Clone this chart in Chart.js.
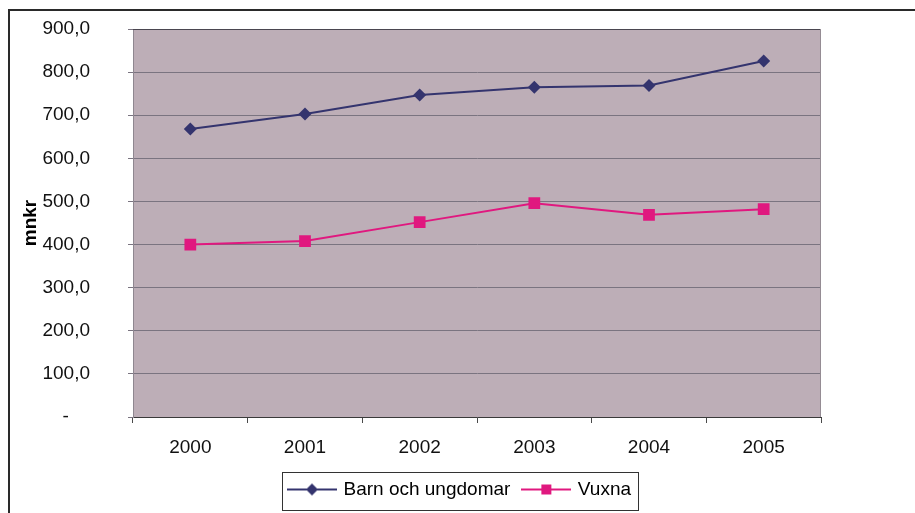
<!DOCTYPE html>
<html>
<head>
<meta charset="utf-8">
<script src="https://cdn.jsdelivr.net/npm/chart.js@4/dist/chart.umd.min.js"></script>
<style>
  html, body { margin: 0; padding: 0; background: #ffffff; }
  #wrap { width: 915px; height: 513px; position: relative; }
</style>
</head>
<body>
<div id="wrap"><canvas id="c" width="915" height="513"></canvas></div>
<script>
// ---- data ----
const categories = ['2000', '2001', '2002', '2003', '2004', '2005'];
const barnValues = [668, 703, 747, 765, 769, 826];
const vuxnaValues = [400, 408, 452, 496, 469, 482];
const seriesNames = ['Barn och ungdomar', 'Vuxna'];
const yTickValues = [0, 100, 200, 300, 400, 500, 600, 700, 800, 900];
const yTickLabels = ['-    ', '100,0', '200,0', '300,0', '400,0', '500,0', '600,0', '700,0', '800,0', '900,0'];
const yTitle = 'mnkr';

// ---- styles ----
const NAVY = '#34346e';
const MAGENTA = '#e0187f';
const PLOT_BG = '#bdaeb7';
const GRID = '#7a7480';
const FONT = "Arial, 'Liberation Sans', sans-serif";

function legendIcon(color, shape) {
  const cv = document.createElement('canvas');
  cv.width = 50; cv.height = 16;
  const g = cv.getContext('2d');
  g.strokeStyle = color; g.lineWidth = 2;
  g.beginPath(); g.moveTo(0, 8); g.lineTo(50, 8); g.stroke();
  g.fillStyle = color;
  g.beginPath();
  if (shape === 'diamond') {
    g.moveTo(25, 2); g.lineTo(31, 8); g.lineTo(25, 14); g.lineTo(19, 8); g.closePath();
  } else {
    g.rect(20, 3, 10, 10);
  }
  g.fill();
  return cv;
}
const icons = [legendIcon(NAVY, 'diamond'), legendIcon(MAGENTA, 'square')];

const decor = {
  id: 'decor',
  afterLayout(chart) {
    const lg = chart.legend;
    if (lg) { lg.left += 50; lg.right += 50; }
  },
  beforeDraw(chart) {
    const ctx = chart.ctx;
    const a = chart.chartArea;
    ctx.save();
    ctx.fillStyle = '#ffffff';
    ctx.fillRect(0, 0, chart.width, chart.height);
    // outer frame
    ctx.strokeStyle = '#2a2a2a';
    ctx.lineWidth = 2;
    ctx.beginPath();
    ctx.moveTo(9, chart.height);
    ctx.lineTo(9, 10);
    ctx.lineTo(chart.width, 10);
    ctx.stroke();
    // plot background
    ctx.fillStyle = PLOT_BG;
    ctx.fillRect(a.left, a.top, a.right - a.left, a.bottom - a.top);
    ctx.restore();
  },
  beforeDatasetsDraw(chart) {
    const ctx = chart.ctx;
    const a = chart.chartArea;
    ctx.save();
    ctx.lineWidth = 1;
    ctx.strokeStyle = '#4a4650';
    ctx.beginPath();
    ctx.moveTo(a.left, a.top + 0.5); ctx.lineTo(a.right, a.top + 0.5);
    ctx.stroke();
    ctx.strokeStyle = '#958c94';
    ctx.beginPath();
    ctx.moveTo(a.right - 0.5, a.top); ctx.lineTo(a.right - 0.5, a.bottom);
    ctx.stroke();
    ctx.restore();
  },
  afterDraw(chart) {
    const lg = chart.legend;
    if (!lg || !lg.legendHitBoxes || !lg.legendHitBoxes.length) return;
    const hb = lg.legendHitBoxes;
    let l = Infinity, r = -Infinity, t = Infinity, b = -Infinity;
    hb.forEach(h => {
      l = Math.min(l, h.left); r = Math.max(r, h.left + h.width);
      t = Math.min(t, h.top); b = Math.max(b, h.top + h.height);
    });
    const ctx = chart.ctx;
    ctx.save();
    ctx.strokeStyle = '#333333';
    ctx.lineWidth = 1;
    ctx.strokeRect(Math.round(l - 8) + 0.5, Math.round(t - 8) + 0.5, Math.round(r - l + 15), Math.round(b - t + 19));
    ctx.restore();
  }
};

new Chart(document.getElementById('c'), {
  type: 'line',
  data: {
    labels: categories,
    datasets: [
      {
        label: seriesNames[0],
        data: barnValues,
        borderColor: NAVY,
        backgroundColor: NAVY,
        borderWidth: 2,
        pointStyle: 'rectRot',
        pointRadius: 6.5,
        pointBorderWidth: 0,
        tension: 0
      },
      {
        label: seriesNames[1],
        data: vuxnaValues,
        borderColor: MAGENTA,
        backgroundColor: MAGENTA,
        borderWidth: 2,
        pointStyle: 'rect',
        pointRadius: 8.3,
        pointBorderWidth: 0,
        tension: 0
      }
    ]
  },
  options: {
    responsive: false,
    animation: false,
    devicePixelRatio: 1,
    layout: { padding: { left: 0, top: 29, right: 94, bottom: 4 } },
    plugins: {
      tooltip: { enabled: false },
      legend: {
        display: true,
        position: 'bottom',
        align: 'center',
        labels: {
          usePointStyle: true,
          pointStyleWidth: 44,
          padding: 14,
          color: '#000000',
          font: { family: FONT, size: 19 },
          generateLabels(chart) {
            return chart.data.datasets.map((ds, i) => ({
              text: ds.label,
              pointStyle: icons[i],
              fillStyle: ds.borderColor,
              strokeStyle: ds.borderColor,
              lineWidth: 0,
              hidden: false,
              datasetIndex: i,
              fontColor: '#000000'
            }));
          }
        }
      }
    },
    scales: {
      x: {
        type: 'category',
        offset: true,
        afterFit(s) { s.height = 49; },
        grid: {
          offset: true,
          drawOnChartArea: false,
          drawTicks: true,
          tickLength: 6,
          color: '#4a4a4a'
        },
        border: { display: true, color: '#3a3a3a', width: 1 },
        ticks: {
          color: '#111111',
          padding: 13,
          maxRotation: 0,
          font: { family: FONT, size: 19 }
        }
      },
      y: {
        min: 0,
        max: 900,
        afterFit(s) { s.width = 133; s.paddingTop = 12; s.paddingBottom = 12; },
        afterBuildTicks(s) { s.ticks = yTickValues.map(v => ({ value: v })); },
        grid: {
          color: GRID,
          lineWidth: 1,
          drawTicks: true,
          tickLength: 5
        },
        border: { display: true, color: '#8f8790', width: 1 },
        ticks: {
          color: '#111111',
          padding: 38,
          font: { family: FONT, size: 19 },
          callback(value) {
            const i = yTickValues.indexOf(value);
            return i >= 0 ? yTickLabels[i] : '';
          }
        },
        title: {
          display: true,
          text: yTitle,
          color: '#000000',
          font: { family: FONT, size: 19, weight: 'bold' },
          padding: { top: 19, bottom: 0 }
        }
      }
    }
  },
  plugins: [decor]
});
</script>
</body>
</html>
